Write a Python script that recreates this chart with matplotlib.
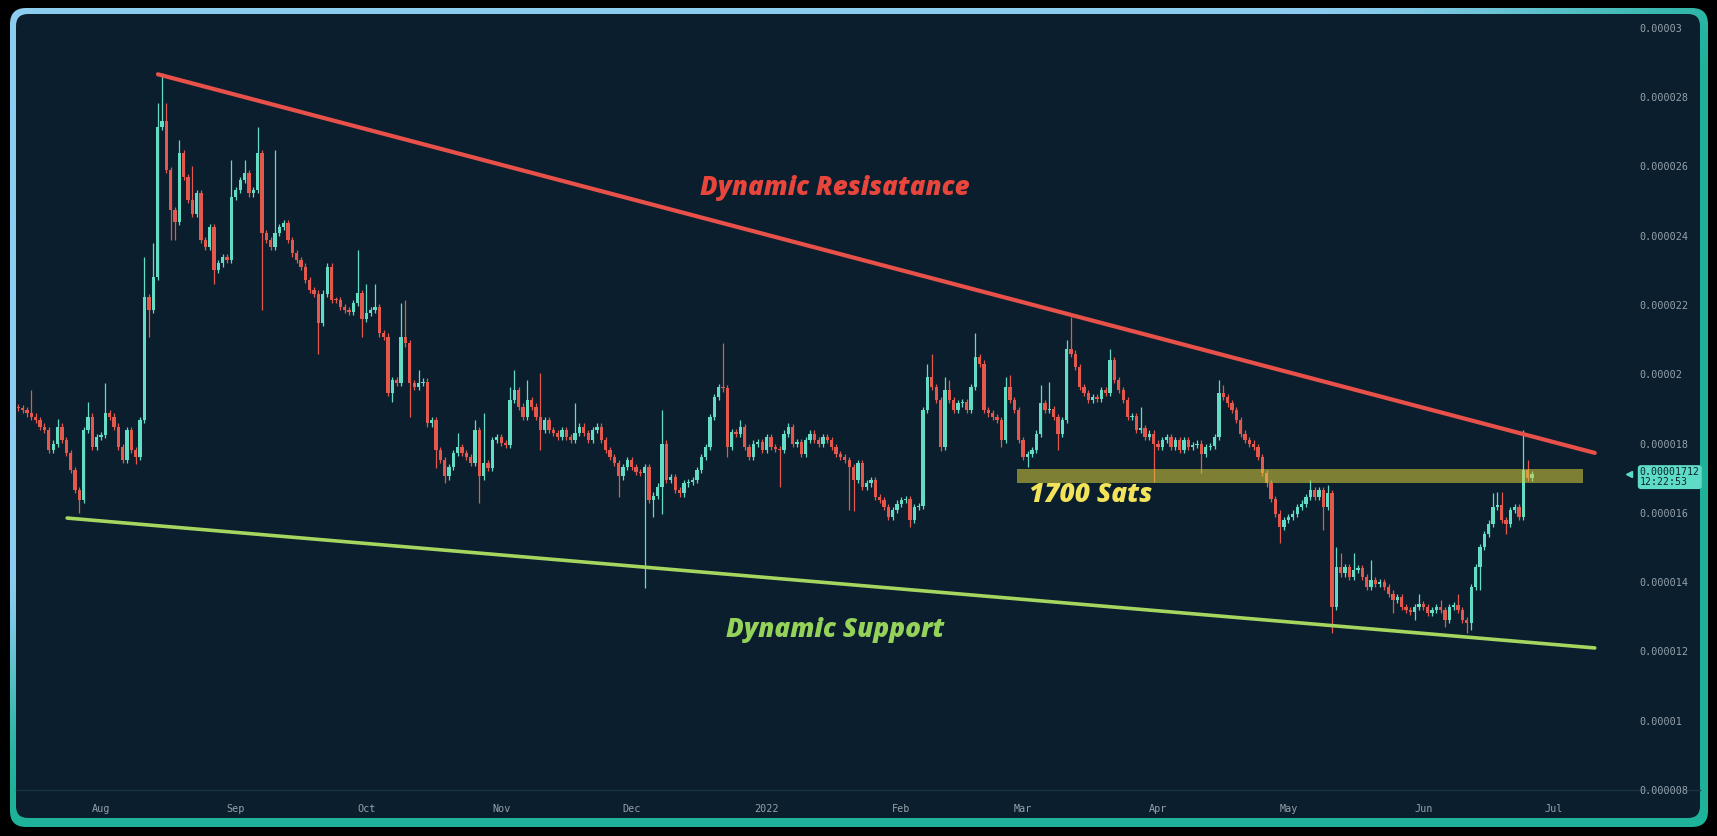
import matplotlib
matplotlib.use("Agg")
import matplotlib.pyplot as plt
import matplotlib.dates as mdates
import matplotlib.transforms as mtransforms
from matplotlib.patches import FancyBboxPatch, Rectangle
import numpy as np
import pandas as pd

# ---------------- data (prices in satoshis, 1 sat = 1e-8 BTC) ----------------
START_DATE = "2021-07-13"
OPEN0 = 1905
closes = [
    1902, 1897, 1887, 1878, 1868, 1849, 1839, 1781, 1800, 1849, 1810, 1772, 1724, 1666, 1637,
    1839, 1878, 1791, 1820, 1825, 1887, 1878, 1849, 1791, 1752, 1839, 1781, 1762, 1868,
    2224, 2185, 2282, 2714, 2730, 2590, 2474, 2440, 2638, 2570, 2503, 2464, 2522, 2387, 2368, 2426, 2300, 2320, 2339, 2330,
    2513, 2532, 2561, 2580, 2522, 2532, 2638, 2407, 2388, 2368, 2407, 2426, 2436, 2388, 2349, 2330, 2311, 2272, 2243, 2233, 2147, 2233, 2311,
    2215, 2214, 2195, 2186, 2180, 2205, 2234, 2160, 2176, 2186, 2195, 2118, 2109, 1945, 1983, 1974, 2109, 2089, 1974, 1964, 1974, 1979, 1858, 1868, 1782, 1753, 1705, 1733,
    1772, 1791, 1772, 1762, 1743, 1839, 1705, 1743, 1730, 1810, 1820, 1801, 1795, 1926, 1955, 1907, 1878, 1926, 1907, 1878, 1839, 1868, 1839, 1830,
    1820, 1839, 1820, 1810, 1830, 1849, 1830, 1810, 1839, 1849, 1810, 1782, 1762, 1743, 1705, 1733, 1753, 1733, 1719, 1714, 1733, 1637, 1650, 1676,
    1800, 1695, 1704, 1666, 1656, 1685, 1690, 1695, 1723, 1762, 1791, 1877, 1935, 1964, 1959, 1791, 1834, 1829, 1848, 1791, 1762, 1800, 1805, 1781,
    1820, 1791, 1785, 1781, 1829, 1848, 1800, 1805, 1771, 1810, 1829, 1810, 1800, 1820, 1810, 1791, 1771, 1762, 1752, 1733, 1695, 1743, 1675, 1685,
    1695, 1646, 1637, 1618, 1589, 1608, 1627, 1637, 1640, 1579, 1618, 1620, 1897, 1993, 1964, 1925, 1791, 1954, 1925, 1897, 1916, 1920, 1897, 1964, 2050,
    2031, 1897, 1887, 1877, 1868, 1810, 1964, 1925, 1897, 1810, 1762, 1771, 1781, 1829, 1916, 1897, 1900, 1877, 1829, 1868, 2074, 2060, 2021, 1964,
    1945, 1925, 1935, 1930, 1954, 1945, 2041, 1983, 1954, 1925, 1877, 1880, 1839, 1845, 1820, 1829, 1800, 1791, 1810, 1820, 1791, 1810, 1781, 1810,
    1791, 1795, 1800, 1771, 1791, 1793, 1820, 1945, 1935, 1916, 1897, 1868, 1829, 1810, 1800, 1791, 1762,
    1714, 1685, 1640, 1598, 1560, 1579, 1589, 1598, 1617, 1627, 1646, 1666, 1646, 1666, 1617, 1656, 1329, 1444, 1425, 1444, 1415,
    1435, 1440, 1415, 1387, 1406, 1396, 1400, 1387, 1367, 1348, 1358, 1329, 1319, 1315, 1329, 1338, 1329, 1310, 1319, 1329, 1319,
    1290, 1329, 1334, 1319, 1290, 1281, 1387, 1444, 1502, 1540, 1569, 1617, 1622, 1579, 1569, 1608, 1617, 1589, 1723, 1700, 1712,
]
# notable wick extremes (candle index -> price)
high_wicks = {3: 1955, 9: 1870, 16: 1921, 20: 1974, 29: 2339, 31: 2380, 32: 2782, 33: 2869, 34: 2782,
              37: 2676, 40: 2600, 49: 2618, 52: 2618, 55: 2715, 59: 2647, 78: 2359, 80: 2262, 82: 2262,
              88: 2205, 89: 2214, 92: 2012, 101: 1830, 105: 1868, 107: 1887, 113: 1964, 114: 2012,
              117: 1984, 120: 2003, 128: 1916, 148: 1897, 162: 2089, 166: 1868, 177: 1858, 209: 2031,
              210: 2060, 213: 1993, 214: 1983, 220: 2118, 227: 1993, 228: 1998, 235: 1969, 237: 1978,
              241: 2099, 242: 2166, 251: 2074, 252: 2050, 258: 1906, 276: 1983, 277: 1969, 297: 1694,
              299: 1675, 301: 1680, 303: 1502, 304: 1483, 307: 1483, 311: 1463, 322: 1367, 327: 1348,
              331: 1367, 339: 1656, 340: 1661, 341: 1661, 346: 1839, 347: 1752}
low_wicks = {14: 1599, 27: 1740, 30: 2109, 35: 2387, 36: 2387, 45: 2262, 56: 2185, 69: 2060, 79: 2109,
             86: 1920, 90: 1878, 96: 1730, 98: 1685, 106: 1628, 120: 1782, 138: 1647, 144: 1382,
             146: 1589, 148: 1598, 152: 1647, 163: 1762, 175: 1675, 191: 1608, 192: 1605, 205: 1560,
             212: 1780, 226: 1791, 232: 1733, 239: 1781, 261: 1690, 272: 1714, 290: 1512, 300: 1550,
             302: 1252, 303: 1319, 316: 1310, 321: 1290, 328: 1271, 333: 1252, 334: 1261, 336: 1377,
             342: 1540}
LAST_TIME = "12:22:53"

# trend lines (date, price in sats)
resistance = [("2021-08-14 02:00", 2866), ("2022-07-10 10:00", 1773)]
support = [("2021-07-24 05:00", 1585), ("2022-07-10 10:00", 1210)]
# 1700 sats zone
zone_dates = ("2022-02-27 14:00", "2022-07-07 17:00")
zone_prices = (1686, 1726)

month_ticks = ["2021-08-01", "2021-09-01", "2021-10-01", "2021-11-01", "2021-12-01", "2022-01-01",
               "2022-02-01", "2022-03-01", "2022-04-01", "2022-05-01", "2022-06-01", "2022-07-01"]
month_labels = ["Aug", "Sep", "Oct", "Nov", "Dec", "2022", "Feb", "Mar", "Apr", "May", "Jun", "Jul"]
price_ticks = [800, 1000, 1200, 1400, 1600, 1800, 2000, 2200, 2400, 2600, 2800, 3000]

# ---------------- style ----------------
BG = "#0a1e2d"
UP = "#62dcc4"
DOWN = "#e4574c"
TICK_COLOR = "#95a1ab"
WICK_PAD = 9
W, H = 1717, 836

plt.rcParams["font.family"] = ["DejaVu Sans Mono"]

fig = plt.figure(figsize=(W / 100, H / 100), dpi=100, facecolor="black")

# background frame with gradient border
bg = fig.add_axes([0, 0, 1, 1])
bg.set_xlim(0, W)
bg.set_ylim(H, 0)
bg.axis("off")

outer = FancyBboxPatch((10, 8), 1698, 819, boxstyle="round,pad=0,rounding_size=16",
                       facecolor="none", edgecolor="none")
bg.add_patch(outer)
gx, gy = np.meshgrid(np.linspace(0, 1, 200), np.linspace(0, 1, 100))
t = gx / 0.9 + gy / 0.8
t = np.clip((t - 0.85) / 0.35, 0, 1)
t = t * t * (3 - 2 * t)
c1 = np.array([0.55, 0.80, 0.94])
c2 = np.array([0.12, 0.70, 0.61])
grad = c1[None, None, :] * (1 - t[..., None]) + c2[None, None, :] * t[..., None]
im = bg.imshow(grad, extent=(0, W, H, 0), interpolation="bilinear", aspect="auto", zorder=1)
im.set_clip_path(outer)
inner = FancyBboxPatch((16, 14), 1684, 804, boxstyle="round,pad=0,rounding_size=12",
                       facecolor=BG, edgecolor="none", zorder=2)
bg.add_patch(inner)
bg.plot([16, 1700], [790, 790], color="#1c3344", lw=1.0, zorder=3)

# main chart axes
ax = fig.add_axes([16 / W, (H - 790) / H, (1612 - 16) / W, (790 - 14) / H])
ax.set_facecolor("none")
for s in ax.spines.values():
    s.set_visible(False)

dates = pd.date_range(START_DATE, periods=len(closes), freq="D")
x = mdates.date2num(dates)
c = np.array(closes, dtype=float)
o = np.array([OPEN0] + closes[:-1], dtype=float)
hi = np.array([high_wicks.get(i, max(o[i], c[i]) + WICK_PAD) for i in range(len(c))])
lo = np.array([low_wicks.get(i, min(o[i], c[i]) - WICK_PAD) for i in range(len(c))])
cols = np.where(c >= o, UP, DOWN)

ax.vlines(x, lo, hi, colors=cols, linewidth=0.9, zorder=2)
ax.bar(x, np.maximum(np.abs(c - o), 3), bottom=np.minimum(o, c), width=0.76,
       color=cols, linewidth=0, zorder=3)

# trend lines
rx = mdates.date2num(pd.to_datetime([p[0] for p in resistance]))
ax.plot(rx, [p[1] for p in resistance], color="#e8504a", lw=3.0, solid_capstyle="round", zorder=4)
sx = mdates.date2num(pd.to_datetime([p[0] for p in support]))
ax.plot(sx, [p[1] for p in support], color="#a5d65f", lw=2.6, solid_capstyle="round", zorder=4)

# zone
zx = mdates.date2num(pd.to_datetime(list(zone_dates)))
ax.add_patch(Rectangle((zx[0], zone_prices[0]), zx[1] - zx[0], zone_prices[1] - zone_prices[0],
                       facecolor="#dcd03a", alpha=0.55, edgecolor="none", zorder=5))

ax.set_xlim(mdates.date2num(pd.Timestamp("2021-07-12 11:00")),
            mdates.date2num(pd.Timestamp("2022-07-14 09:00")))
ax.set_ylim(800, 3040)

ax.set_xticks(mdates.date2num(pd.to_datetime(month_ticks)))
ax.set_xticklabels(month_labels)
ax.yaxis.tick_right()
ax.set_yticks(price_ticks)
ax.set_yticklabels([f"{v * 1e-8:.6f}".rstrip("0") for v in price_ticks])
ax.tick_params(axis="x", length=0, pad=10, labelsize=7.3, labelcolor=TICK_COLOR)
ax.tick_params(axis="y", length=0, pad=20, labelsize=7.3, labelcolor=TICK_COLOR)

# last price label
trans = mtransforms.blended_transform_factory(ax.transAxes, ax.transData)
ax.annotate(f"{closes[-1] * 1e-8:.8f}\n{LAST_TIME}", xy=(1.0, closes[-1]), xycoords=trans,
            xytext=(20, 5), textcoords="offset points", ha="left", va="top",
            fontsize=7.1, color="#0b2230", linespacing=1.0,
            bbox=dict(boxstyle="round,pad=0.2,rounding_size=0.3", facecolor="#5fdcc6", edgecolor="none"),
            annotation_clip=False)
ax.plot([1.0 + 17 / 1596], [closes[-1]], marker="<", markersize=4.5, color="#5fdcc6",
        transform=trans, clip_on=False, zorder=6)

# annotations
ann = dict(family=["Open Sans", "DejaVu Sans"], fontweight="heavy", style="italic", ha="center", va="center")
bg.text(835, 188, "Dynamic Resisatance", color="#e8453c", fontsize=18.6, zorder=10, **ann)
bg.text(1091, 495, "1700 Sats", color="#f2e35a", fontsize=18.9, zorder=10, **ann)
bg.text(835, 630, "Dynamic Support", color="#94d25a", fontsize=18.8, zorder=10, **ann)

fig.savefig("out.png", dpi=100, facecolor="black")
